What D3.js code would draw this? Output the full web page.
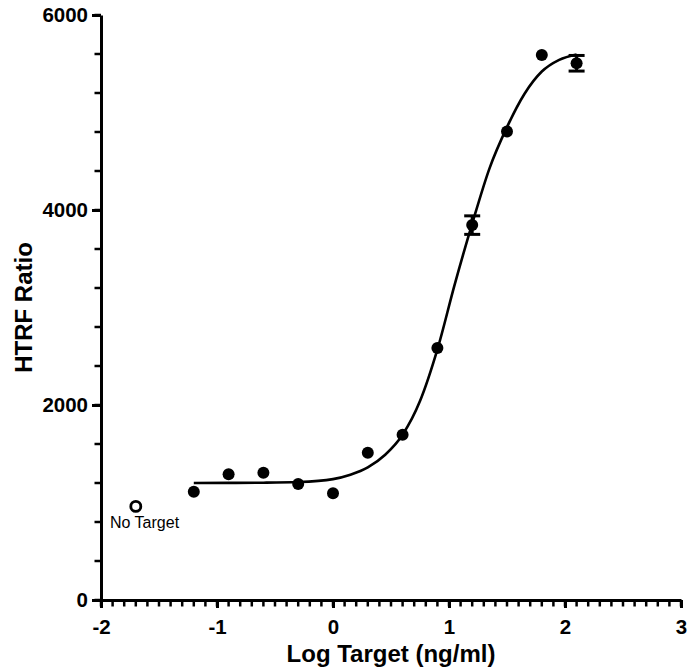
<!DOCTYPE html>
<html lang="en">
<head>
  <meta charset="UTF-8">
  <title>HTRF Ratio vs Log Target</title>
  <style>
    body {
      margin: 0;
      padding: 0;
      background: #fff;
      font-family: 'Liberation Sans', Arial, sans-serif;
    }
    .axis path, .axis line {
      stroke: #000;
      stroke-width: 3px;
    }
    .axis text {
      font-family: 'Liberation Sans', Arial, sans-serif;
      font-size: 20.5px;
      font-weight: bold;
      fill: #000;
    }
    .title {
      font-size: 24px;
      font-weight: bold;
      fill: #000;
    }
    .fit {
      fill: none;
      stroke: #000;
      stroke-width: 2.6px;
    }
  </style>
</head>
<body>
  <div id="chart"></div>

  <script src="https://d3js.org/d3.v7.min.js"></script>
  <script>
    // Messpunkte (log ng/ml, HTRF Ratio)
    const logTarget = [-1.2, -0.9, -0.6, -0.3, 0, 0.3, 0.6, 0.9, 1.2, 1.5, 1.8, 2.1];
    const htrf      = [1110, 1290, 1305, 1190, 1095, 1510, 1695, 2585, 3845, 4805, 5590, 5505];
    const htrfErr   = [0, 0, 0, 0, 0, 0, 0, 0, 95, 0, 0, 80];

    // Kontrolle ohne Target
    const noTargetX = [-1.7];
    const noTargetY = [960];

    // Angepasste Kurve
    const fitX = [-1.2, -0.9, -0.6, -0.3, 0, 0.15, 0.3, 0.45, 0.6, 0.75, 0.9, 1.05, 1.2, 1.35, 1.5, 1.65, 1.8, 1.95, 2.1];
    const fitY = [1200, 1201, 1203, 1210, 1240, 1285, 1360, 1490, 1695, 2040, 2570, 3240, 3860, 4430, 4850, 5190, 5420, 5540, 5595];

    const xMajor = [-2, -1, 0, 1, 2, 3];
    const yMajor = [0, 2000, 4000, 6000];
    const xMinor = d3.range(-20, 31).map(d => d / 10);
    const yMinor = d3.range(0, 6001, 400);

    const W = 691, H = 670;
    const margin = { top: 15, right: 10, bottom: 70, left: 101 };

    const x = d3.scaleLinear().domain([-2, 3]).range([margin.left, 681]);
    const y = d3.scaleLinear().domain([0, 6000]).range([H - margin.bottom, margin.top]);

    const svg = d3.select('#chart')
      .append('svg')
      .attr('width', W)
      .attr('height', H);

    // Hauptachsen
    svg.append('g')
      .attr('class', 'axis')
      .attr('transform', `translate(0,${y(0)})`)
      .call(d3.axisBottom(x).tickValues(xMajor).tickSize(8).tickSizeOuter(0).tickPadding(11).tickFormat(d => String(d)));

    svg.append('g')
      .attr('class', 'axis')
      .attr('transform', `translate(${x(-2)},0)`)
      .call(d3.axisLeft(y).tickValues(yMajor).tickSize(9).tickSizeOuter(0).tickPadding(4).tickFormat(d => String(d)));

    // Nebenstriche
    const minor = svg.append('g')
      .attr('stroke', '#000')
      .attr('stroke-width', 2.5);

    minor.selectAll('line.mx')
      .data(xMinor)
      .join('line')
      .attr('class', 'mx')
      .attr('x1', d => x(d)).attr('x2', d => x(d))
      .attr('y1', y(0)).attr('y2', y(0) + 6.5);

    minor.selectAll('line.my')
      .data(yMinor)
      .join('line')
      .attr('class', 'my')
      .attr('x1', x(-2)).attr('x2', x(-2) - 6.5)
      .attr('y1', d => y(d)).attr('y2', d => y(d));

    // Achsentitel
    svg.append('text')
      .attr('class', 'title')
      .attr('x', (x(-2) + x(3)) / 2)
      .attr('y', 662)
      .attr('text-anchor', 'middle')
      .text('Log Target (ng/ml)');

    svg.append('text')
      .attr('class', 'title')
      .attr('transform', `translate(32,${(y(0) + y(6000)) / 2}) rotate(-90)`)
      .attr('text-anchor', 'middle')
      .text('HTRF Ratio');

    // Kurve
    const line = d3.line()
      .x(d => x(d[0]))
      .y(d => y(d[1]))
      .curve(d3.curveMonotoneX);

    svg.append('path')
      .attr('class', 'fit')
      .attr('d', line(fitX.map((v, i) => [v, fitY[i]])));

    // Fehlerbalken
    const pts = logTarget.map((v, i) => ({ x: v, y: htrf[i], e: htrfErr[i] }));
    const eb = svg.append('g').selectAll('g')
      .data(pts.filter(d => d.e > 0))
      .join('g')
      .attr('stroke', '#000')
      .attr('stroke-width', 3);
    eb.append('line')
      .attr('x1', d => x(d.x)).attr('x2', d => x(d.x))
      .attr('y1', d => y(d.y - d.e)).attr('y2', d => y(d.y + d.e));
    eb.append('line')
      .attr('x1', d => x(d.x) - 8).attr('x2', d => x(d.x) + 8)
      .attr('y1', d => y(d.y + d.e)).attr('y2', d => y(d.y + d.e));
    eb.append('line')
      .attr('x1', d => x(d.x) - 8).attr('x2', d => x(d.x) + 8)
      .attr('y1', d => y(d.y - d.e)).attr('y2', d => y(d.y - d.e));

    // Punkte
    svg.append('g').selectAll('circle')
      .data(pts)
      .join('circle')
      .attr('cx', d => x(d.x))
      .attr('cy', d => y(d.y))
      .attr('r', 6)
      .attr('fill', '#000');

    svg.append('g').selectAll('circle')
      .data(noTargetX.map((v, i) => ({ x: v, y: noTargetY[i] })))
      .join('circle')
      .attr('cx', d => x(d.x))
      .attr('cy', d => y(d.y))
      .attr('r', 5)
      .attr('fill', '#fff')
      .attr('stroke', '#000')
      .attr('stroke-width', 2.8);

    svg.append('text')
      .attr('x', 110)
      .attr('y', 528)
      .style('font-size', '16px')
      .style('fill', '#000')
      .text('No Target');
  </script>
</body>
</html>
